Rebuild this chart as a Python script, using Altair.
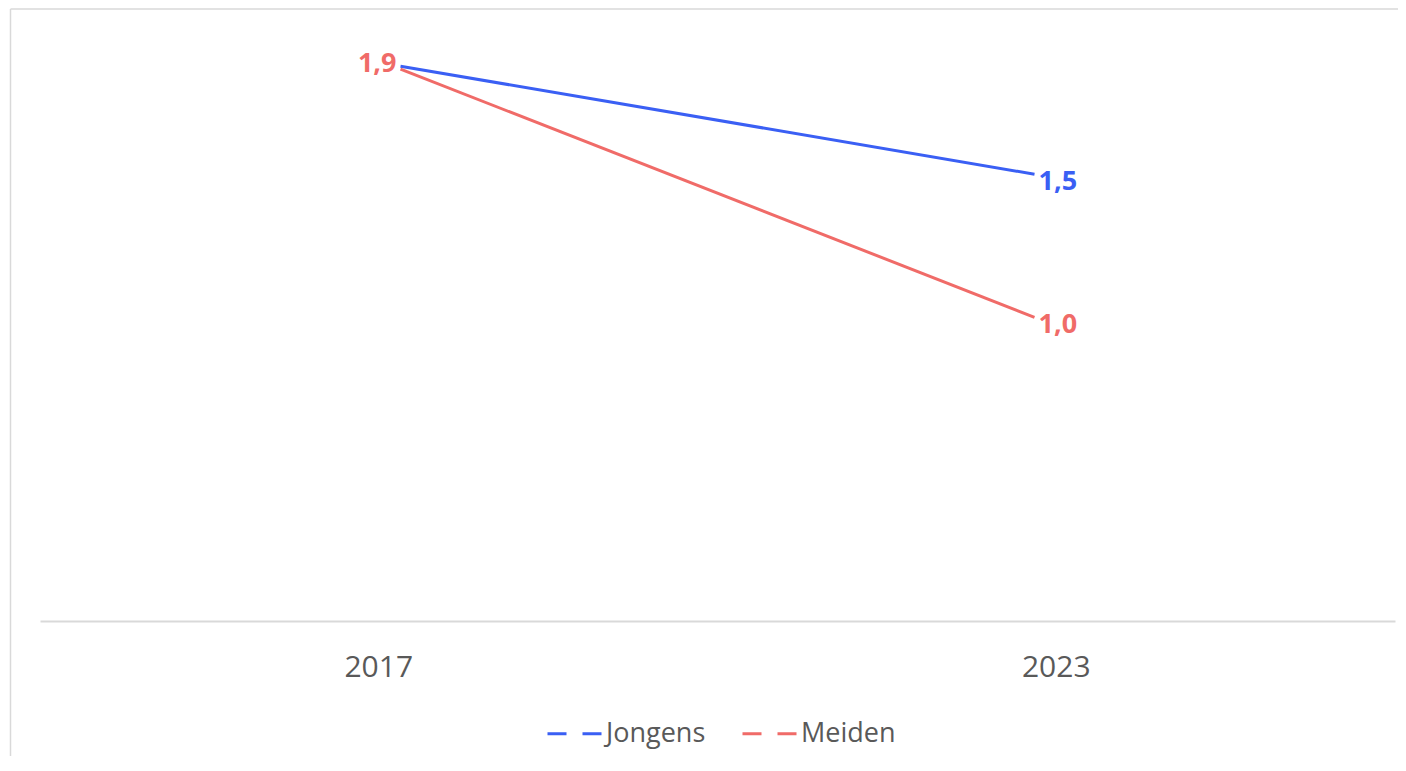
import altair as alt
import pandas as pd

# ---- data ----
years = ["2017", "2023"]
series = ["Jongens", "Meiden"]
jongens = [1.90, 1.53]
meiden = [1.89, 1.04]
colors = ["#3A5FF4", "#F06B68"]

rows = []
for s, vals in zip(series, [jongens, meiden]):
    for yr, v in zip(years, vals):
        rows.append({"jaar": yr, "groep": s, "waarde": v})
df = pd.DataFrame(rows)
years_df = pd.DataFrame({"jaar": years})

W, H = 1355, 584
FONT = "Open Sans"
GREY = "#595959"

y_enc = alt.Y("waarde:Q", scale=alt.Scale(domain=[0, 2]), axis=None)
x_pt = alt.X("jaar:O", scale=alt.Scale(type="point", domain=years, padding=0.5686), axis=None)

color_legend = alt.Color(
    "groep:N",
    scale=alt.Scale(domain=series, range=colors),
    title=None,
    legend=alt.Legend(
        orient="none", direction="horizontal", legendX=506, legendY=668,
        symbolType="stroke", symbolSize=2916, symbolStrokeWidth=3,
        symbolDash=[19, 16], labelFont=FONT, labelFontSize=27, labelColor=GREY,
        labelOffset=3, columnPadding=30, padding=0,
    ),
)
color_plain = alt.Color("groep:N", scale=alt.Scale(domain=series, range=colors), legend=None)

axis_layer = alt.Chart(years_df).mark_point(opacity=0).encode(
    x=alt.X(
        "jaar:O",
        scale=alt.Scale(type="band", domain=years, paddingInner=0, paddingOuter=0),
        axis=alt.Axis(
            orient="bottom", title=None, labelAngle=0, ticks=False, grid=False,
            domainColor="#D9D9D9", domainWidth=2, labelFont=FONT, labelFontSize=30,
            labelColor=GREY, labelPadding=31,
        ),
    )
)

lines = alt.Chart(df).mark_line(strokeWidth=3, strokeCap="butt").encode(
    x=x_pt, y=y_enc, color=color_legend
)

lbl_expr = "replace(format(datum.waarde, '.1f'), '.', ',')"

left_labels = (
    alt.Chart(df)
    .transform_filter("datum.jaar == '2017' && datum.groep == 'Meiden'")
    .transform_calculate(lbl=lbl_expr)
    .mark_text(align="right", baseline="middle", dx=-4, dy=-5, font=FONT,
               fontSize=27, fontWeight="bold")
    .encode(x=x_pt, y=y_enc, text="lbl:N", color=color_plain)
)

right_labels = (
    alt.Chart(df)
    .transform_filter("datum.jaar == '2023'")
    .transform_calculate(lbl=lbl_expr)
    .mark_text(align="left", baseline="middle", dx=4, dy=8, font=FONT,
               fontSize=27, fontWeight="bold")
    .encode(x=x_pt, y=y_enc, text="lbl:N", color=color_plain)
)

frame_df = pd.DataFrame({"b": [0]})
top_edge = alt.Chart(frame_df).mark_rule(color="#D9D9D9", strokeWidth=1.5).encode(
    x=alt.value(-29.5), x2=alt.value(W + 100), y=alt.value(-28)
)
left_edge = alt.Chart(frame_df).mark_rule(color="#D9D9D9", strokeWidth=1.5).encode(
    x=alt.value(-29.5), y=alt.value(-28), y2=alt.value(H + 300)
)

chart = (
    alt.layer(top_edge, left_edge, axis_layer, lines, left_labels, right_labels)
    .resolve_scale(x="independent")
    .properties(
        width=W, height=H,
        autosize=alt.AutoSizeParams(type="none"),
        padding={"left": 32, "top": 29, "right": 3, "bottom": 135},
        background="white",
    )
    .configure_view(strokeWidth=0, stroke="transparent")
)

chart.save("out.html", embed_options={"renderer": "svg", "actions": False})
